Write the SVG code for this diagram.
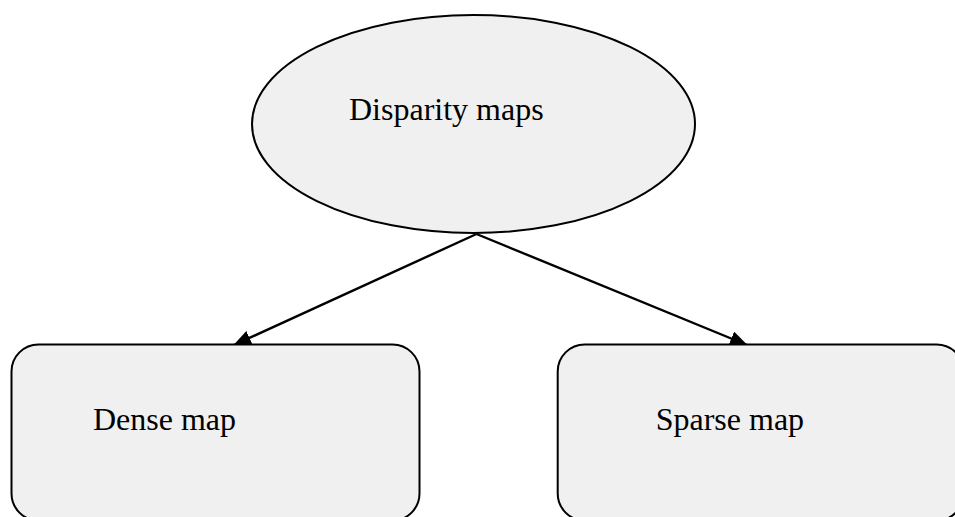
<svg xmlns="http://www.w3.org/2000/svg" width="955" height="517" viewBox="0 0 955 517">
  <style>
    .shape { fill: #f0f0f0; stroke: #000; stroke-width: 2; }
    .label { font-family: "Liberation Serif", "Times New Roman", serif; font-size: 32px; fill: #000; }
    .edge { stroke: #000; stroke-width: 2.4; fill: none; marker-end: url(#arrow); }
  </style>
  <defs>
    <marker id="arrow" markerWidth="18" markerHeight="15" refX="17" refY="7.5" orient="auto" markerUnits="userSpaceOnUse">
      <path d="M0,0 L18,7.5 L0,15 Z" fill="#000"/>
    </marker>
  </defs>
  <rect width="955" height="517" fill="#fff"/>

  <g id="connectors">
    <line class="edge" x1="476.5" y1="234" x2="234" y2="345"/>
    <line class="edge" x1="476.5" y1="234" x2="747" y2="345"/>
  </g>

  <g id="disparity-maps">
    <ellipse class="shape" cx="473.5" cy="124" rx="221.5" ry="109"/>
    <text class="label" x="349" y="120">Disparity maps</text>
  </g>

  <g id="dense-map">
    <rect class="shape" x="11.5" y="344.5" width="408" height="176" rx="27" ry="27"/>
    <text class="label" x="93" y="430">Dense map</text>
  </g>

  <g id="sparse-map">
    <rect class="shape" x="557.7" y="344.5" width="406" height="176" rx="27" ry="27"/>
    <text class="label" x="655.7" y="430">Sparse map</text>
  </g>
</svg>
